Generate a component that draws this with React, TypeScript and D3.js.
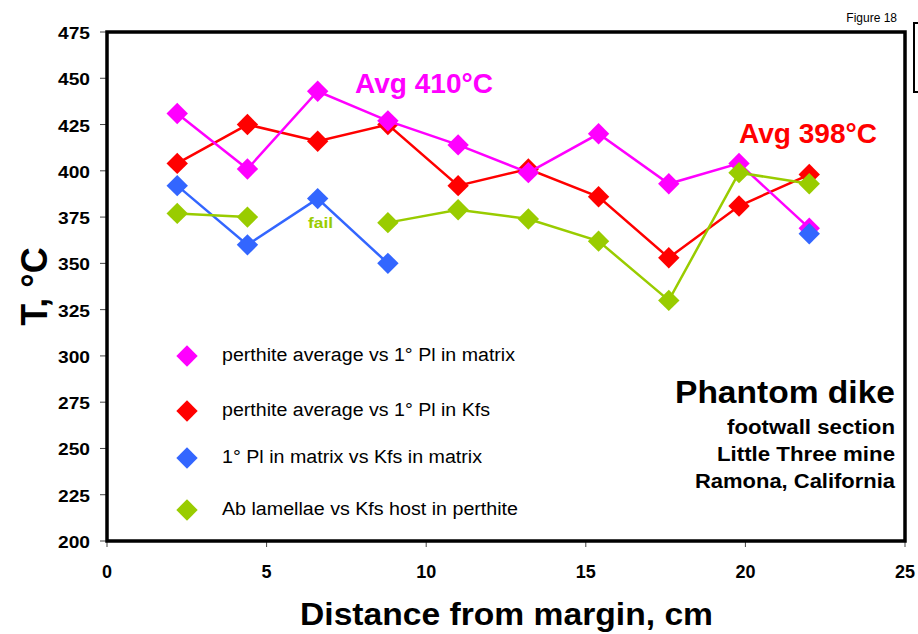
import * as d3 from "d3";

const distances = [2.2, 4.4, 6.6, 8.8, 11, 13.2, 15.4, 17.6, 19.8, 22];
const magentaValues = [431, 401, 443, 427, 414, 399, 420, 393, 404, 369];
const redValues = [404, 425, 416, 425, 392, 401, 386, 353, 381, 398];
const blueValues = [392, 360, 385, 350, null, null, null, null, null, 366];
const greenValues = [377, 375, null, 372, 379, 374, 362, 330, 399, 393];

const xTicks = [0, 5, 10, 15, 20, 25];
const yTicks = [200, 225, 250, 275, 300, 325, 350, 375, 400, 425, 450, 475];

const seriesNames = [
  "perthite average vs 1° Pl in matrix",
  "perthite average vs 1° Pl in Kfs",
  "1° Pl in matrix vs Kfs in matrix",
  "Ab lamellae vs Kfs host in perthite",
];
const seriesColors = ["#ff00ff", "#ff0000", "#3366ff", "#99cc00"];
const seriesValues = [magentaValues, redValues, blueValues, greenValues];
// red sits under magenta, green on top
const drawOrder = [1, 0, 2, 3];

const infoLines = ["footwall section", "Little Three mine", "Ramona, California"];

const W = 918;
const H = 634;
const plot = { left: 107, right: 905, top: 32, bottom: 541 };
const font = "'Liberation Sans', Arial, sans-serif";

// widths measured on the reference (its text is a bit wider than Arial)
const legendWidths = [293, 268, 260, 296];
const legendRows = [356, 411, 458, 510];
const infoWidths = [168, 178, 200];

function diamond(cx: number, cy: number, r: number) {
  return `M${cx},${cy - r}L${cx + r},${cy}L${cx},${cy + r}L${cx - r},${cy}Z`;
}

export default function App() {
  const x = d3.scaleLinear().domain([0, 25]).range([plot.left, plot.right]);
  const y = d3.scaleLinear().domain([200, 475]).range([plot.bottom, plot.top]);

  const line = d3
    .line<number | null>()
    .defined((d) => d !== null)
    .x((_, i) => x(distances[i]))
    .y((d) => y(d as number));

  return (
    <svg
      width={W}
      height={H}
      style={{ position: "absolute", left: 0, top: 0, background: "#fff" }}
      fontFamily={font}
    >
      <rect width={W} height={H} fill="#fff" />
      <text x={897} y={22} fontSize={12} textAnchor="end" fill="#000">
        Figure 18
      </text>
      <rect x={914} y={23} width={20} height={69} fill="#fff" stroke="#000" strokeWidth={2} />

      {/* y ticks */}
      {yTicks.map((t) => (
        <g key={t}>
          <line x1={plot.left - 7} x2={plot.left} y1={y(t)} y2={y(t)} stroke="#444" strokeWidth={1} />
          <text
            x={90}
            y={y(t) + 7}
            fontSize={17}
            fontWeight="bold"
            textAnchor="end"
            textLength={32}
            lengthAdjust="spacingAndGlyphs"
          >
            {t}
          </text>
        </g>
      ))}
      {/* x ticks */}
      {xTicks.map((t) => (
        <g key={t}>
          <line x1={x(t)} x2={x(t)} y1={plot.bottom} y2={plot.bottom + 6} stroke="#444" strokeWidth={1} />
          <text x={x(t)} y={578} fontSize={18} fontWeight="bold" textAnchor="middle">
            {t}
          </text>
        </g>
      ))}

      {/* series */}
      {drawOrder.map((s) => (
        <g key={s}>
          <path d={line(seriesValues[s]) || ""} fill="none" stroke={seriesColors[s]} strokeWidth={2.5} />
          {seriesValues[s].map((v, i) =>
            v === null ? null : (
              <path key={i} d={diamond(x(distances[i]), y(v), 10.7)} fill={seriesColors[s]} />
            )
          )}
        </g>
      ))}

      <text x={308} y={228} fontSize={14} fontWeight="bold" fill="#99cc00" textLength={25} lengthAdjust="spacingAndGlyphs">
        fail
      </text>
      <text x={355} y={93} fontSize={28} fontWeight="bold" fill="#ff00ff" textLength={138} lengthAdjust="spacingAndGlyphs">
        Avg 410°C
      </text>
      <text x={739} y={143} fontSize={28} fontWeight="bold" fill="#ff0000" textLength={138} lengthAdjust="spacingAndGlyphs">
        Avg 398°C
      </text>

      {/* legend */}
      {seriesNames.map((name, i) => {
        const ly = legendRows[i];
        return (
          <g key={name}>
            <path d={diamond(187, ly, 10.7)} fill={seriesColors[i]} />
            <text x={222} y={ly + 5} fontSize={18} textLength={legendWidths[i]} lengthAdjust="spacingAndGlyphs">
              {name}
            </text>
          </g>
        );
      })}

      <text x={675} y={403} fontSize={31} fontWeight="bold" textLength={220} lengthAdjust="spacingAndGlyphs">
        Phantom dike
      </text>
      {infoLines.map((t, i) => (
        <text
          key={t}
          x={895 - infoWidths[i]}
          y={434 + i * 27}
          fontSize={20}
          fontWeight="bold"
          textLength={infoWidths[i]}
          lengthAdjust="spacingAndGlyphs"
        >
          {t}
        </text>
      ))}

      {/* frame */}
      <rect
        x={plot.left}
        y={plot.top}
        width={plot.right - plot.left}
        height={plot.bottom - plot.top}
        fill="none"
        stroke="#000"
        strokeWidth={3.5}
      />

      <text x={300} y={625} fontSize={32} fontWeight="bold" textLength={413} lengthAdjust="spacingAndGlyphs">
        Distance from margin, cm
      </text>
      <text
        transform={`translate(47,${(plot.top + plot.bottom) / 2}) rotate(-90)`}
        fontSize={36}
        fontWeight="bold"
        textAnchor="middle"
      >
        T, °C
      </text>
    </svg>
  );
}
